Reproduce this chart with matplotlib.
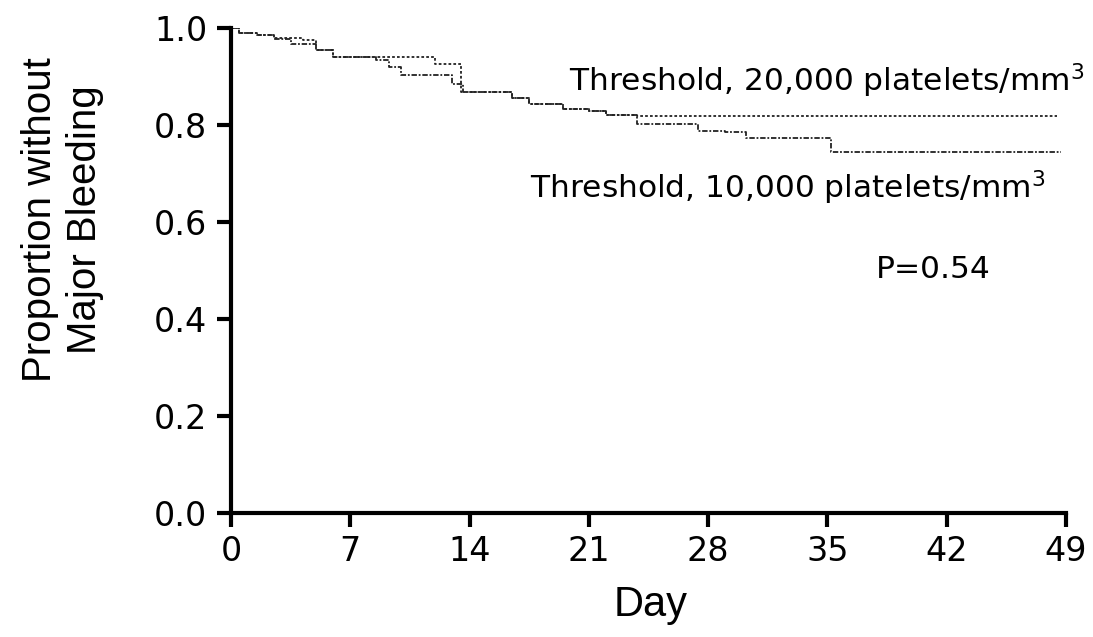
import matplotlib
matplotlib.use("Agg")
import matplotlib.pyplot as plt

plt.rcParams['font.family'] = ['Liberation Sans', 'DejaVu Sans']
plt.rcParams['mathtext.default'] = 'regular'

# step points (day, proportion without major bleeding)
days_10k = [0, 0.5, 1.5, 2.5, 3.5, 5, 6, 8.5, 9.3, 10, 13, 13.6, 16.5, 17.5,
            19.5, 21, 22, 23.8, 27.4, 29, 30.2, 35.2, 48.7]
surv_10k = [1.0, 0.99, 0.985, 0.977, 0.967, 0.955, 0.94, 0.935, 0.92, 0.903,
            0.885, 0.868, 0.855, 0.843, 0.833, 0.828, 0.820, 0.803, 0.787,
            0.785, 0.773, 0.744, 0.744]

days_20k = [0, 0.5, 1.5, 2.5, 4.2, 5, 6, 12, 13.5, 16.5, 17.5, 19.5, 21, 22,
            23.8, 48.5]
surv_20k = [1.0, 0.99, 0.985, 0.98, 0.975, 0.955, 0.94, 0.925, 0.868, 0.855,
            0.843, 0.833, 0.828, 0.82, 0.818, 0.818]

x_ticks = [0, 7, 14, 21, 28, 35, 42, 49]
y_ticks = [0.0, 0.2, 0.4, 0.6, 0.8, 1.0]

wide = ['DejaVu Sans']

fig = plt.figure(figsize=(10.93, 6.37), dpi=100)
ax = fig.add_axes([0.2113, 0.1947, 0.764, 0.7613])

ax.step(days_20k, surv_20k, where='post', color='#222222', lw=1.3,
        linestyle=(0, (1.5, 1.2)))
ax.step(days_10k, surv_10k, where='post', color='#222222', lw=1.3,
        linestyle=(0, (3, 1, 1, 1)))

ax.set_xlim(0, 49)
ax.set_ylim(0, 1.0)
ax.set_xticks(x_ticks)
ax.set_yticks(y_ticks)
ax.set_yticklabels([f"{v:.1f}" for v in y_ticks])

for s in ['top', 'right']:
    ax.spines[s].set_visible(False)
for s in ['left', 'bottom']:
    ax.spines[s].set_linewidth(3)
ax.tick_params(axis='x', width=3, length=10, labelsize=24, pad=6)
ax.tick_params(axis='y', width=3, length=10, labelsize=24, pad=7)
for lab in ax.get_xticklabels() + ax.get_yticklabels():
    lab.set_family(wide)

ax.set_xlabel("Day", fontsize=30)
ax.xaxis.set_label_coords(0.502, -0.148)
ax.set_ylabel("Proportion without\nMajor Bleeding", fontsize=29,
              linespacing=1.25)
ax.yaxis.set_label_coords(-0.152, 0.604)

ax.text(50.1, 0.870, "Threshold, 20,000 platelets/mm$^3$", fontsize=22.5,
        family=wide, ha='right', va='baseline', clip_on=False)
ax.text(47.8, 0.649, "Threshold, 10,000 platelets/mm$^3$", fontsize=22.5,
        family=wide, ha='right', va='baseline')
ax.text(37.85, 0.485, "P=0.54", fontsize=22.5, family=wide,
        ha='left', va='baseline')

fig.savefig("out.png", dpi=100)
